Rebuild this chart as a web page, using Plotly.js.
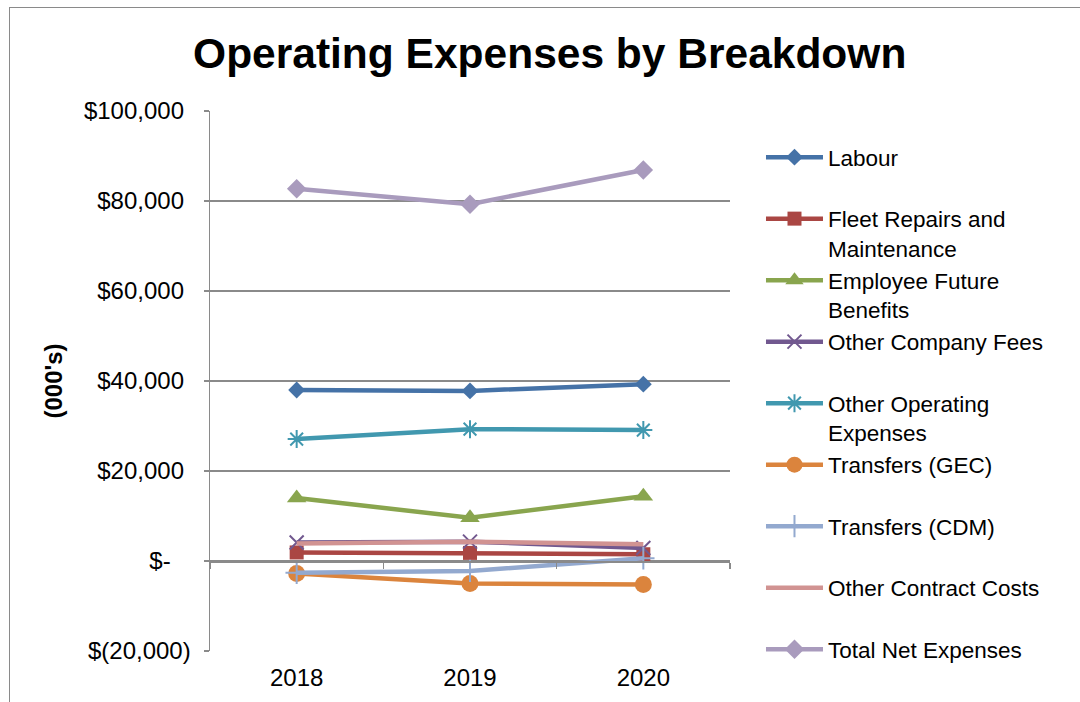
<!DOCTYPE html>
<html>
<head>
<meta charset="utf-8">
<script src="https://cdn.plot.ly/plotly-3.0.1.min.js"></script>
<style>
html,body{margin:0;padding:0;background:#fff;}
#wrap{position:relative;width:1080px;height:702px;overflow:hidden;}
#chart{width:1080px;height:702px;}
#frame{position:absolute;left:9px;top:7px;width:1200px;height:900px;border:1.5px solid #8a8a8a;pointer-events:none;}
</style>
</head>
<body>
<div id="wrap"><div id="chart"></div><div id="frame"></div></div>
<script>
const years = ['2018', '2019', '2020'];
const seriesNames = ['Labour', 'Fleet Repairs and<br>Maintenance', 'Employee Future<br>Benefits', 'Other Company Fees', 'Other Operating<br>Expenses', 'Transfers (GEC)', 'Transfers (CDM)', 'Other Contract Costs', 'Total Net Expenses'];
const labour = [38000, 37800, 39300];
const fleet = [1900, 1800, 1500];
const employeeFuture = [14000, 9600, 14400];
const otherCompanyFees = [4100, 4300, 2900];
const otherOperating = [27100, 29300, 29100];
const transfersGEC = [-2800, -5000, -5200];
const transfersCDM = [-2600, -2200, 600];
const otherContract = [3900, 4300, 3700];
const totalNet = [82700, 79300, 86900];
const yTickVals = [100000, 80000, 60000, 40000, 20000, 0, -20000];
const yTickText = ['$100,000\u00a0', '$80,000\u00a0', '$60,000\u00a0', '$40,000\u00a0', '$20,000\u00a0', '$-\u00a0\u00a0\u00a0', '$(20,000)'];

const values = [labour, fleet, employeeFuture, otherCompanyFees, otherOperating, transfersGEC, transfersCDM, otherContract, totalNet];
const colors = ['#4572A7', '#AA4643', '#89A54E', '#71588F', '#4198AF', '#DB843D', '#93A9CF', '#D19392', '#A99BBD'];
const markers = [
  {symbol: 'diamond', size: 13},
  {symbol: 'square', size: 14},
  {symbol: 'triangle-up', size: 17},
  {symbol: 'x-thin-open', size: 14, line: {width: 2}},
  {symbol: 'asterisk-open', size: 15, line: {width: 2}},
  {symbol: 'circle', size: 17},
  {symbol: 'cross-thin-open', size: 16, line: {width: 2}},
  null,
  {symbol: 'diamond', size: 15}
];

const traces = values.map((v, i) => {
  const m = markers[i];
  const last = i === values.length - 1;
  const t = {
    x: years, y: v,
    name: (seriesNames[i].indexOf('<br>') >= 0 || last) ? seriesNames[i] : seriesNames[i] + '<br>\u00a0',
    type: 'scatter', mode: m ? 'lines+markers' : 'lines',
    line: {color: colors[i], width: 4.5},
    cliponaxis: false
  };
  if (m) {
    t.marker = Object.assign({color: colors[i]}, m);
    if (m.line) t.marker.line = {color: colors[i], width: m.line.width};
  }
  return t;
});
traces.push({x: [-0.5, 2.5], y: [null, null], xaxis: 'x2', yaxis: 'y', type: 'scatter', mode: 'lines', showlegend: false, hoverinfo: 'skip'});

const layout = {
  width: 1080, height: 702,
  margin: {l: 210, r: 350, t: 111, b: 51},
  paper_bgcolor: '#ffffff', plot_bgcolor: '#ffffff',
  font: {family: 'Liberation Sans, Arial, sans-serif', size: 24, color: '#000'},
  title: {text: '<b>Operating Expenses by Breakdown</b>', x: 0.509, xanchor: 'center', y: 0.925, yanchor: 'middle', yref: 'container',
          font: {size: 42.5, family: 'Liberation Sans, Arial, sans-serif', color: '#000'}},
  showlegend: true,
  legend: {x: 1.0596, xanchor: 'left', y: 0.9537, yanchor: 'top', valign: 'top', maxheight: 1,
           font: {size: 22.5, color: '#000'}, bgcolor: 'rgba(0,0,0,0)', tracegroupgap: 0, itemwidth: 57},
  xaxis: {type: 'category', range: [-0.5, 2.5], showgrid: false, showline: false, zeroline: false,
          ticks: '', tickfont: {size: 24}, ticklabelstandoff: 10, fixedrange: true},
  xaxis2: {overlaying: 'x', anchor: 'free', position: 1/6, range: [-0.5, 2.5], showgrid: false,
           showline: true, linecolor: '#8a8a8a', linewidth: 1.5, ticks: 'outside', ticklen: 6, tickcolor: '#8a8a8a', tickwidth: 1.5,
           tickvals: [-0.5, 0.5, 1.5, 2.5], showticklabels: false, zeroline: false},
  yaxis: {range: [-20000, 100000], tickvals: yTickVals, ticktext: yTickText, showgrid: true, gridcolor: '#8a8a8a', gridwidth: 1.5,
          zeroline: false, showline: true, linecolor: '#8a8a8a', linewidth: 1.5, ticks: 'outside', ticklen: 5, tickcolor: '#8a8a8a', tickwidth: 1.5,
          tickfont: {size: 24}, ticklabelstandoff: 8,
          title: {text: "<b>(000's)</b>", font: {size: 24}, standoff: 14}, automargin: false}
};

Plotly.newPlot('chart', traces, layout, {displayModeBar: false, staticPlot: true});
</script>
</body>
</html>
